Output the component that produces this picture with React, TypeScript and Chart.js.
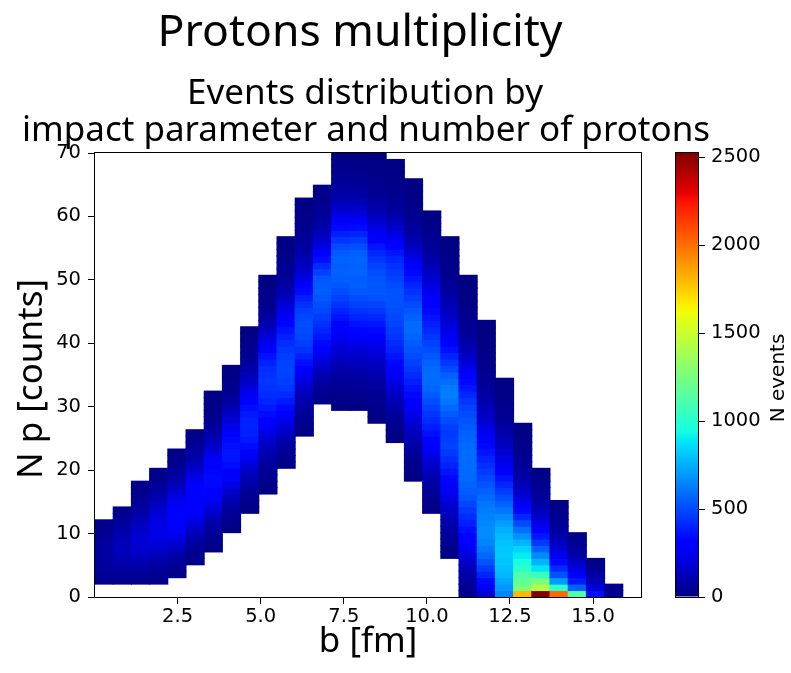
import React, { useEffect, useRef } from 'react';
import { Chart, registerables } from 'chart.js';

Chart.register(...registerables);

// ---------------- text ----------------
const FIG_TITLE = 'Protons multiplicity';
const AX_TITLE_1 = 'Events distribution by';
const AX_TITLE_2 = 'impact parameter and number of protons';
const X_LABEL = 'b [fm]';
const Y_LABEL = 'N p [counts]';
const CB_LABEL = 'N events';

// ---------------- binning ----------------
const X_BIN_START = 0.014;
const X_BIN_WIDTH = 0.5476;
const X_BIN_COUNT = 30;
const Y_MAX = 70;
const Y_BIN_COUNT = 69;
const CB_MAX = 2525;

const X_TICKS = [2.5, 5.0, 7.5, 10.0, 12.5, 15.0];
const Y_TICKS = [0, 10, 20, 30, 40, 50, 60, 70];
const CB_TICKS = [0, 500, 1000, 1500, 2000, 2500];

// first occupied N p bin for each b column
const COL_FIRST_BIN = [2, 2, 2, 2, 3, 5, 7, 10, 13, 16, 20, 25, 30, 29, 29, 27, 24, 18, 13, 6, 0, 0, 0, 0, 0, 0, 0, 0, 0];

// event counts per column, from the first occupied bin upward
const col00 = [35, 50, 60, 68, 72, 70, 62, 50, 38, 24];
const col01 = [30, 50, 75, 100, 120, 130, 125, 110, 90, 65, 45, 25];
const col02 = [28, 48, 75, 110, 145, 170, 180, 175, 160, 135, 105, 78, 55, 38, 25, 16];
const col03 = [22, 38, 60, 90, 130, 170, 205, 225, 230, 225, 205, 175, 140, 105, 75, 50, 32, 20];
const col04 = [20, 35, 58, 90, 135, 185, 235, 270, 285, 290, 280, 255, 215, 170, 125, 88, 60, 40, 26, 16];
const col05 = [18, 30, 48, 75, 110, 155, 205, 255, 290, 305, 310, 300, 275, 235, 185, 140, 100, 70, 48, 32, 20];
const col06 = [15, 25, 40, 62, 92, 130, 175, 225, 275, 310, 330, 335, 325, 300, 260, 210, 160, 118, 85, 60, 42, 30, 21, 14, 9];
const col07 = [15, 25, 40, 60, 90, 125, 170, 220, 270, 315, 345, 360, 365, 355, 330, 290, 240, 190, 145, 105, 75, 52, 36, 25, 17, 11];
const col08 = [15, 25, 38, 55, 80, 110, 150, 195, 245, 295, 340, 375, 395, 400, 395, 375, 345, 305, 260, 210, 165, 125, 92, 68, 50, 37, 27, 19, 13];
const col09 = [15, 22, 32, 45, 62, 85, 112, 145, 180, 220, 260, 300, 340, 375, 405, 425, 440, 445, 440, 425, 395, 355, 305, 250, 195, 145, 105, 75, 52, 36, 26, 19, 13, 9];
const col10 = [20, 32, 48, 70, 100, 140, 185, 235, 285, 335, 380, 420, 450, 470, 480, 485, 480, 470, 450, 425, 395, 360, 320, 275, 230, 185, 145, 110, 85, 65, 50, 38, 28, 20, 14, 10];
const col11 = [15, 25, 38, 55, 75, 100, 130, 165, 205, 250, 300, 350, 400, 440, 470, 490, 500, 505, 495, 470, 435, 390, 335, 280, 225, 180, 145, 115, 90, 70, 55, 45, 36, 28, 21, 15, 10];
const col12 = [20, 35, 55, 80, 110, 150, 195, 240, 285, 330, 370, 405, 435, 465, 490, 510, 530, 545, 540, 530, 480, 420, 350, 280, 220, 170, 130, 95, 70, 52, 40, 30, 22, 15];
const col13 = [12, 20, 30, 42, 58, 78, 100, 125, 155, 185, 220, 255, 290, 325, 360, 400, 440, 475, 505, 530, 545, 555, 550, 560, 540, 500, 450, 390, 330, 270, 215, 165, 125, 95, 70, 52, 40, 30, 22, 15];
const col14 = [12, 20, 30, 42, 58, 80, 105, 135, 165, 200, 240, 280, 320, 360, 400, 440, 475, 505, 530, 550, 545, 560, 555, 565, 550, 510, 460, 400, 335, 270, 210, 160, 120, 90, 66, 50, 38, 28, 20, 14];
const col15 = [12, 18, 26, 36, 48, 62, 80, 100, 125, 150, 180, 215, 250, 290, 330, 370, 410, 450, 485, 515, 525, 530, 520, 505, 480, 450, 410, 365, 315, 265, 215, 170, 130, 95, 70, 52, 40, 30, 22, 16, 12, 9];
const col16 = [12, 20, 30, 45, 65, 90, 118, 150, 185, 220, 260, 295, 330, 365, 395, 420, 445, 465, 480, 495, 505, 515, 520, 515, 500, 480, 460, 440, 410, 370, 320, 265, 210, 160, 120, 88, 65, 48, 36, 27, 20, 15, 11, 8];
const col17 = [12, 18, 27, 40, 58, 80, 105, 135, 165, 200, 235, 270, 300, 330, 360, 390, 420, 450, 475, 500, 520, 540, 560, 580, 575, 555, 530, 500, 470, 440, 405, 370, 330, 285, 235, 185, 140, 105, 78, 58, 44, 34, 26, 20, 15, 11, 8];
const col18 = [15, 25, 38, 55, 75, 100, 130, 165, 205, 245, 285, 320, 355, 390, 420, 450, 480, 510, 540, 565, 580, 585, 575, 555, 530, 505, 480, 450, 420, 390, 360, 330, 300, 270, 240, 210, 180, 150, 120, 95, 72, 55, 42, 32, 24, 17, 12];
const col19 = [15, 25, 38, 55, 75, 100, 125, 155, 185, 220, 255, 290, 325, 365, 400, 430, 460, 480, 470, 455, 470, 500, 540, 580, 610, 630, 620, 590, 550, 500, 450, 400, 350, 300, 260, 225, 195, 165, 140, 115, 92, 72, 56, 44, 34, 26, 20, 15, 11, 8];
const col20 = [30, 45, 65, 90, 120, 160, 200, 245, 285, 320, 350, 385, 420, 455, 490, 520, 545, 560, 570, 575, 580, 585, 580, 575, 565, 555, 540, 520, 500, 480, 450, 410, 370, 330, 285, 240, 195, 155, 120, 90, 68, 52, 40, 30, 23, 17, 13, 10, 8, 6];
const col21 = [180, 260, 330, 400, 460, 520, 570, 610, 640, 660, 660, 650, 640, 625, 605, 580, 555, 525, 495, 465, 435, 400, 365, 330, 290, 250, 210, 175, 145, 118, 95, 76, 60, 48, 38, 30, 24, 19, 15, 12, 9, 7, 5];
const col22 = [650, 690, 730, 770, 790, 810, 815, 810, 800, 780, 750, 710, 660, 610, 560, 510, 460, 410, 360, 310, 265, 220, 180, 145, 115, 90, 70, 54, 42, 32, 24, 18, 13, 9];
const col23 = [1800, 1250, 1180, 1120, 1020, 960, 900, 840, 760, 680, 590, 500, 410, 330, 260, 200, 155, 118, 90, 70, 54, 42, 32, 25, 19, 14, 10];
const col24 = [2525, 1430, 1250, 1060, 880, 760, 660, 560, 460, 370, 300, 230, 170, 125, 92, 68, 50, 36, 25, 16];
const col25 = [2020, 1020, 700, 520, 420, 330, 250, 190, 140, 100, 72, 52, 36, 24, 14];
const col26 = [1120, 560, 380, 290, 210, 150, 100, 62, 38, 20];
const col27 = [350, 200, 120, 80, 45, 22];
const col28 = [45, 30];

const COLUMNS = [col00, col01, col02, col03, col04, col05, col06, col07, col08, col09,
  col10, col11, col12, col13, col14, col15, col16, col17, col18, col19,
  col20, col21, col22, col23, col24, col25, col26, col27, col28];

// ---------------- jet colormap ----------------
const JET_R: [number, number][] = [[0, 0], [0.35, 0], [0.66, 1], [0.89, 1], [1, 0.5]];
const JET_G: [number, number][] = [[0, 0], [0.125, 0], [0.375, 1], [0.64, 1], [0.91, 0], [1, 0]];
const JET_B: [number, number][] = [[0, 0.5], [0.11, 1], [0.34, 1], [0.65, 0], [1, 0]];
const JET_STOPS = [0, 0.11, 0.125, 0.34, 0.35, 0.375, 0.64, 0.65, 0.66, 0.89, 0.91, 1];

function seg(pts: [number, number][], t: number) {
  for (let i = 1; i < pts.length; i++) {
    if (t <= pts[i][0]) {
      const [x0, y0] = pts[i - 1];
      const [x1, y1] = pts[i];
      return y0 + ((t - x0) / (x1 - x0 || 1)) * (y1 - y0);
    }
  }
  return pts[pts.length - 1][1];
}
function jet(t: number) {
  const u = Math.max(0, Math.min(1, t));
  const r = Math.round(seg(JET_R, u) * 255);
  const g = Math.round(seg(JET_G, u) * 255);
  const b = Math.round(seg(JET_B, u) * 255);
  return `rgb(${r},${g},${b})`;
}

const BODY_FONT = '"Noto Sans", "DejaVu Sans", sans-serif';
const TICK_FONT = '"DejaVu Sans", sans-serif';

function buildCells() {
  const yw = Y_MAX / Y_BIN_COUNT;
  const cells: { x: number; y: [number, number]; v: number }[] = [];
  COLUMNS.forEach((col, i) => {
    const xc = X_BIN_START + (i + 0.5) * X_BIN_WIDTH;
    col.forEach((v, j) => {
      const k = COL_FIRST_BIN[i] + j;
      cells.push({ x: xc, y: [k * yw, Math.min(Y_MAX, (k + 1) * yw)], v });
    });
  });
  return cells;
}

function strokeArea(ctx: CanvasRenderingContext2D, a: any) {
  ctx.strokeStyle = '#000';
  ctx.lineWidth = 1;
  ctx.strokeRect(Math.round(a.left) - 0.5, Math.round(a.top) - 0.5, Math.round(a.right - a.left) + 1, Math.round(a.bottom - a.top) + 1);
}

const framePlugin = {
  id: 'frame',
  afterDatasetsDraw(chart: any) {
    const { ctx, chartArea } = chart;
    ctx.save();
    strokeArea(ctx, chartArea);
    ctx.restore();
  },
};

const textPlugin = {
  id: 'figText',
  afterDraw(chart: any) {
    const { ctx, chartArea: a } = chart;
    ctx.save();
    ctx.fillStyle = '#000';
    ctx.textAlign = 'center';
    ctx.textBaseline = 'alphabetic';
    ctx.font = `44.5px ${BODY_FONT}`;
    ctx.fillText(FIG_TITLE, 360, 46);
    ctx.font = `35px ${BODY_FONT}`;
    ctx.fillText(AX_TITLE_1, 365, 104);
    ctx.fillText(AX_TITLE_2, 366, 141);
    ctx.textBaseline = 'middle';
    ctx.fillText(X_LABEL, (a.left + a.right) / 2, 642);
    ctx.translate(32, 379);
    ctx.rotate(-Math.PI / 2);
    ctx.fillText(Y_LABEL, 0, 0);
    ctx.restore();
  },
};

const cbPlugin = {
  id: 'cbDecor',
  afterDraw(chart: any) {
    const { ctx, chartArea } = chart;
    ctx.save();
    strokeArea(ctx, chartArea);
    ctx.fillStyle = '#000';
    ctx.font = `20px ${TICK_FONT}`;
    ctx.textAlign = 'center';
    ctx.textBaseline = 'middle';
    ctx.translate(779, 378);
    ctx.rotate(-Math.PI / 2);
    ctx.fillText(CB_LABEL, 0, 0);
    ctx.restore();
  },
};

export default function App() {
  const mainRef = useRef<HTMLCanvasElement>(null);
  const cbRef = useRef<HTMLCanvasElement>(null);

  useEffect(() => {
    const cells = buildCells();
    const main = new Chart(mainRef.current!, {
      type: 'bar',
      data: {
        datasets: [
          {
            data: cells as any,
            backgroundColor: (c: any) => (c.raw ? jet(c.raw.v / CB_MAX) : 'rgba(0,0,0,0)'),
            borderWidth: 0,
            barPercentage: 1,
            categoryPercentage: 1,
            inflateAmount: 0.5,
          } as any,
        ],
      },
      options: {
        responsive: false,
        animation: false,
        events: [],
        layout: { padding: { left: 0, top: 153, right: 150, bottom: 0 } },
        plugins: { legend: { display: false }, tooltip: { enabled: false }, title: { display: false } },
        scales: {
          x: {
            type: 'linear',
            offset: false,
            min: X_BIN_START,
            max: X_BIN_START + X_BIN_COUNT * X_BIN_WIDTH,
            afterBuildTicks: (s: any) => {
              s.ticks = X_TICKS.map((v) => ({ value: v }));
            },
            afterFit: (s: any) => {
              s.height = 76;
            },
            grid: { offset: false, drawOnChartArea: false, drawTicks: true, tickLength: 7, color: '#000', lineWidth: 1 },
            border: { display: false },
            ticks: {
              color: '#000',
              font: { family: TICK_FONT, size: 19.5 },
              padding: 1,
              maxRotation: 0,
              autoSkip: false,
              callback: (v: any) => Number(v).toFixed(1),
            },
          },
          y: {
            type: 'linear',
            min: 0,
            max: Y_MAX,
            afterBuildTicks: (s: any) => {
              s.ticks = Y_TICKS.map((v) => ({ value: v }));
            },
            afterFit: (s: any) => {
              s.width = 95;
            },
            grid: { drawOnChartArea: false, drawTicks: true, tickLength: 7, color: '#000', lineWidth: 1 },
            border: { display: false },
            ticks: {
              color: '#000',
              font: { family: TICK_FONT, size: 19.5 },
              padding: 7,
              autoSkip: false,
              callback: (v: any) => String(v),
            },
          },
        },
      } as any,
      plugins: [framePlugin, textPlugin],
    });

    const cb = new Chart(cbRef.current!, {
      type: 'bar',
      data: {
        labels: [''],
        datasets: [
          {
            data: [[0, CB_MAX]] as any,
            backgroundColor: (c: any) => {
              const area = c.chart.chartArea;
              if (!area) return 'rgba(0,0,0,0)';
              const g = c.chart.ctx.createLinearGradient(0, area.bottom, 0, area.top);
              JET_STOPS.forEach((t) => g.addColorStop(t, jet(t)));
              return g;
            },
            borderWidth: 0,
            barPercentage: 1,
            categoryPercentage: 1,
            inflateAmount: 0,
          } as any,
        ],
      },
      options: {
        responsive: false,
        animation: false,
        events: [],
        layout: { padding: { left: 676, top: 153, right: 0, bottom: 76 } },
        plugins: { legend: { display: false }, tooltip: { enabled: false } },
        scales: {
          x: { display: false },
          y: {
            position: 'right',
            min: 0,
            max: CB_MAX,
            afterBuildTicks: (s: any) => {
              s.ticks = CB_TICKS.map((v) => ({ value: v }));
            },
            afterFit: (s: any) => {
              s.width = 93;
            },
            grid: { drawOnChartArea: false, drawTicks: true, tickLength: 7, color: '#000', lineWidth: 1 },
            border: { display: false },
            ticks: {
              color: '#000',
              font: { family: TICK_FONT, size: 19.5 },
              padding: 6,
              autoSkip: false,
              callback: (v: any) => String(v),
            },
          },
        },
      } as any,
      plugins: [cbPlugin],
    });

    return () => {
      main.destroy();
      cb.destroy();
    };
  }, []);

  return (
    <div style={{ position: 'absolute', left: 0, top: 0, width: 791, height: 673, background: '#fff', overflow: 'hidden' }}>
      <canvas ref={mainRef} width={791} height={673} style={{ position: 'absolute', left: 0, top: 0 }} />
      <canvas ref={cbRef} width={791} height={673} style={{ position: 'absolute', left: 0, top: 0 }} />
    </div>
  );
}
